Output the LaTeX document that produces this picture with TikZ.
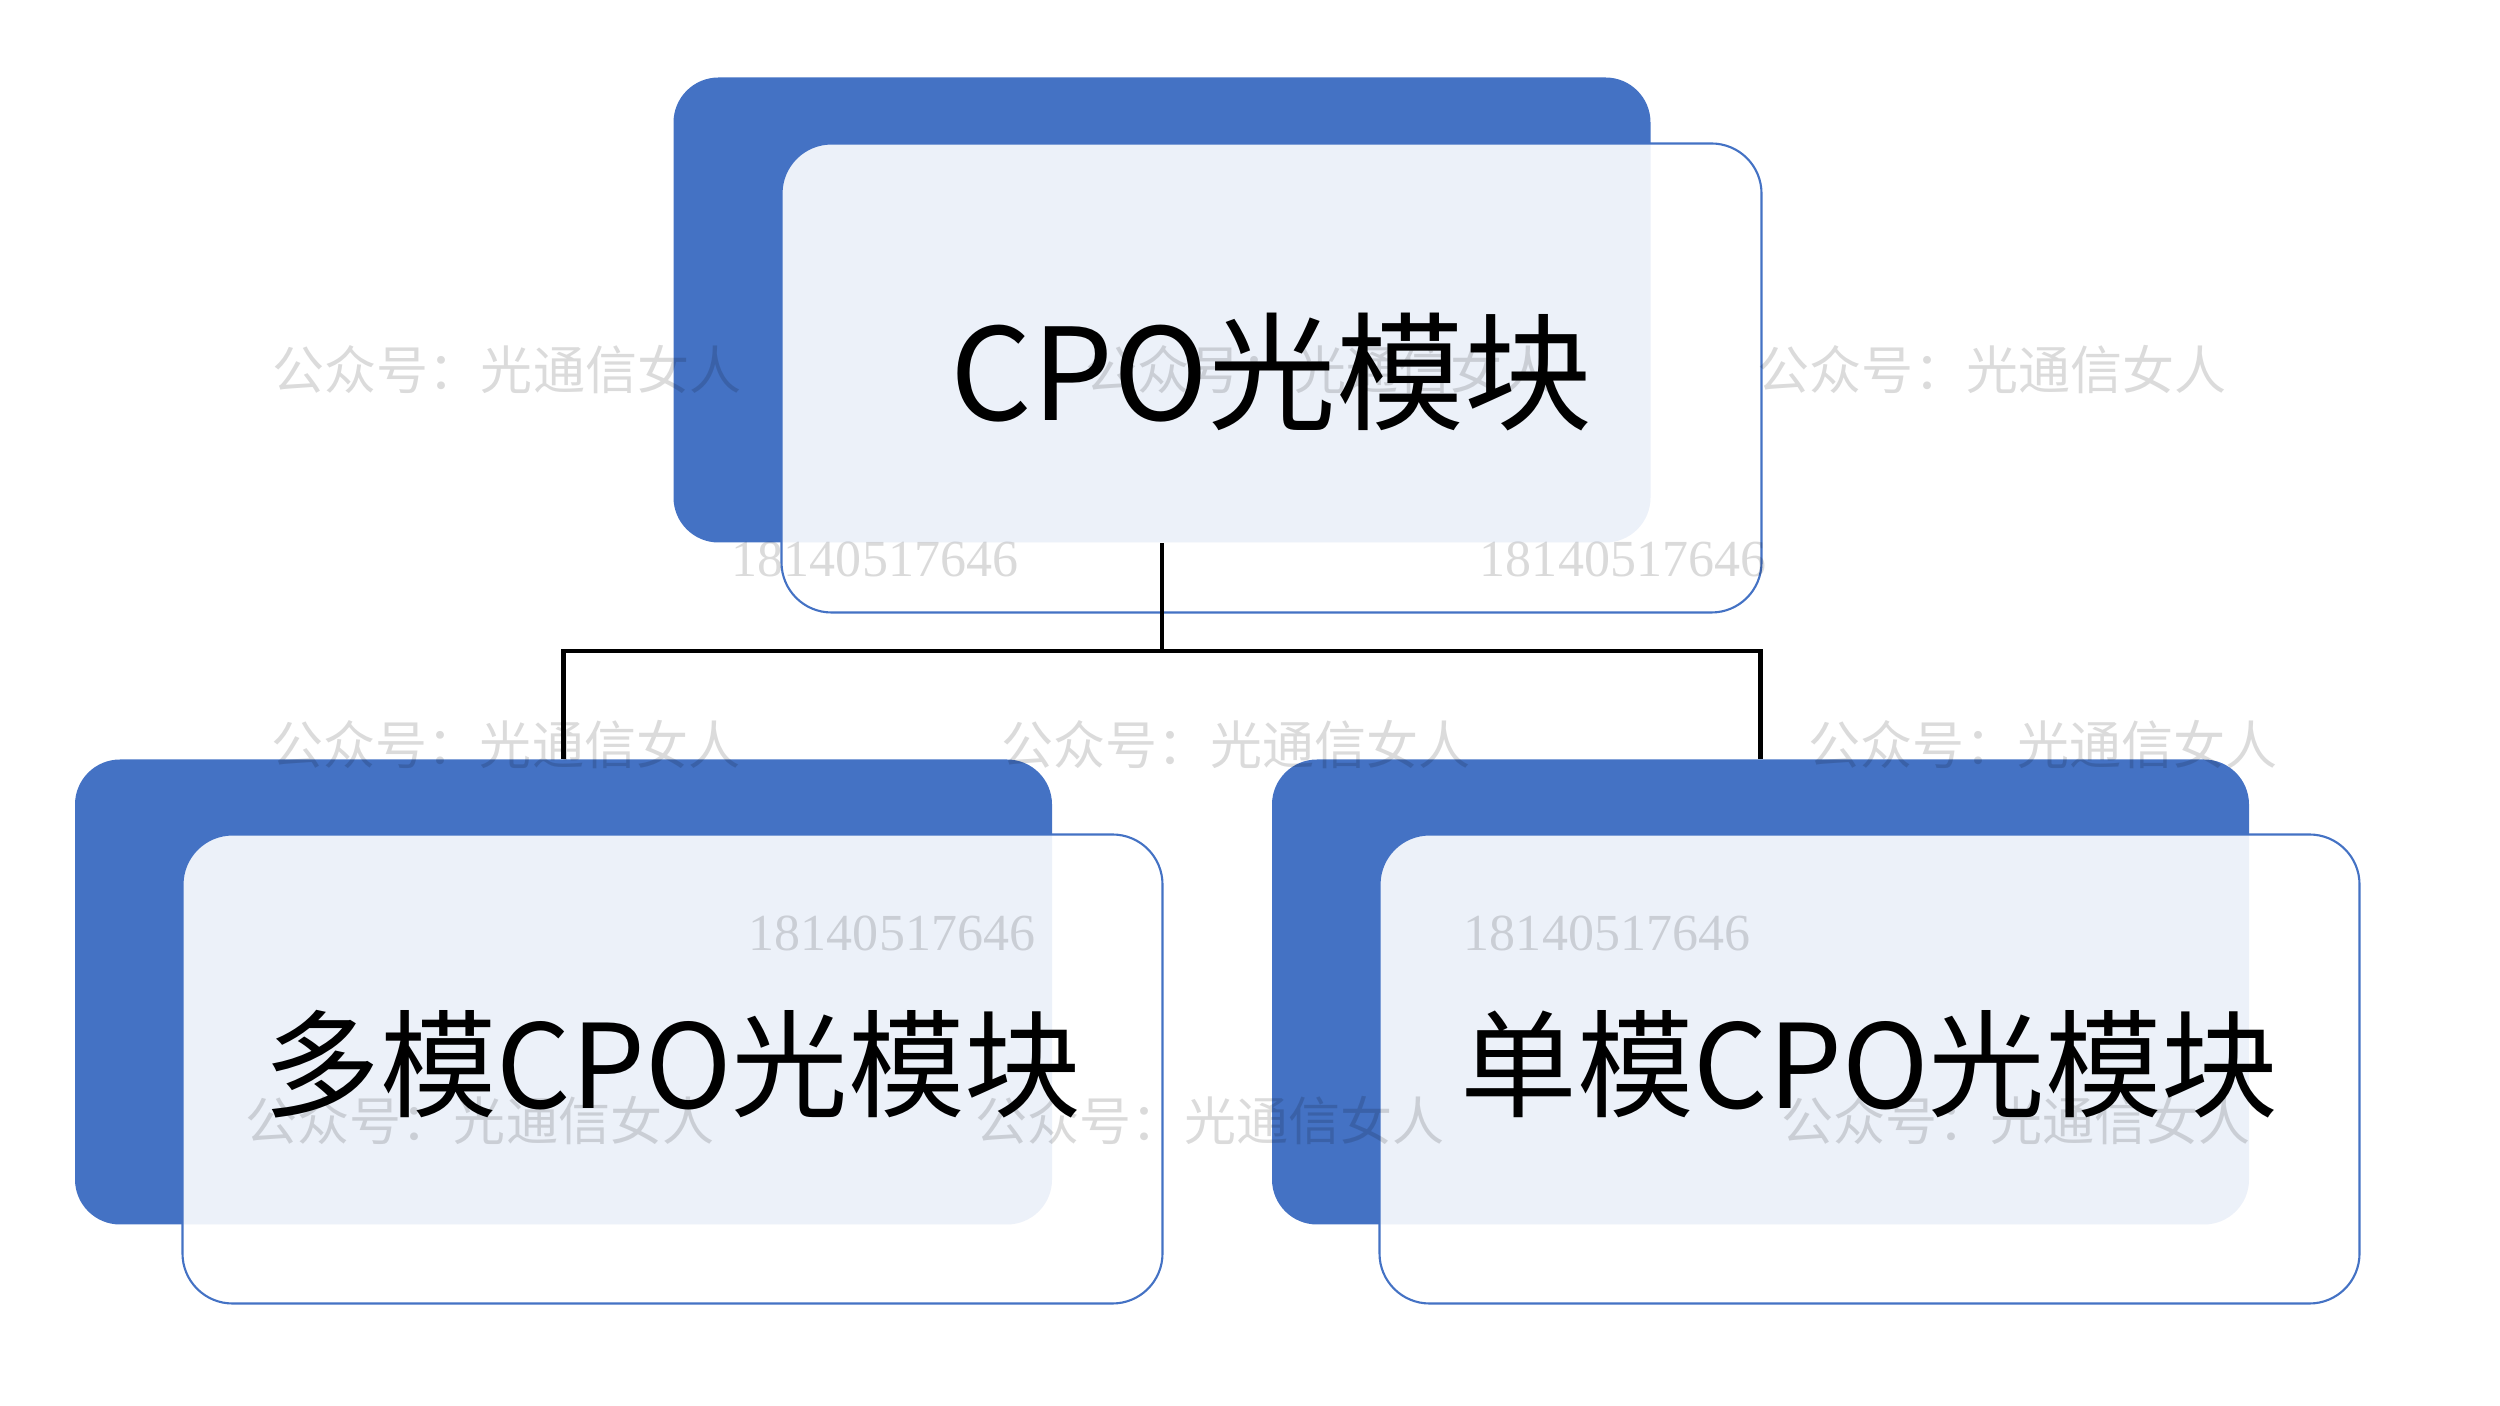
\documentclass[tikz,border=0pt]{standalone}
\usepackage{fontspec}
\newfontfamily\cjk{Noto Sans CJK SC}
\newfontfamily\numfont{Liberation Serif}
\definecolor{boxblue}{HTML}{4472C4}
\tikzset{
	backbox/.style={fill=boxblue,rounded corners=.45cm,minimum width=9.77cm,minimum height=4.65cm},
	frontbox/.style={draw=boxblue,line width=.6pt,fill=white,fill opacity=.9,text opacity=1,rounded corners=.5cm,minimum width=9.8cm,minimum height=4.69cm,font=\cjk\fontsize{33.2}{38}\selectfont},
	linkline/.style={black,line width=1.2pt},
	wechatmark/.style={black,text opacity=.14,font=\cjk\fontsize{14.8}{16}\selectfont},
	phonemark/.style={black,text opacity=.14,font=\numfont\fontsize{14.8}{16}\selectfont}
}
\begin{document}
\begin{tikzpicture}
	\useasboundingbox (0,0) rectangle (25,14.06);
%	Top box :
	\node[backbox] (cpoback) at (11.62,10.96) {};
	\node[frontbox,font=\cjk\fontsize{36.4}{40}\selectfont] (cpofront) at (12.715,10.28) {\raisebox{1.8pt}[\height][\depth]{CPO光模块}};
%	Left box :
	\node[backbox] (mmback) at (5.635,4.14) {};
	\node[frontbox] (mmfront) at (6.725,3.37) {\raisebox{1.4pt}[\height][\depth]{多模CPO光模块}};
%	Right box :
	\node[backbox] (smback) at (17.605,4.14) {};
	\node[frontbox] (smfront) at (18.695,3.37) {\raisebox{1.4pt}[\height][\depth]{单模CPO光模块}};
%	Links :
	\coordinate (bus) at (11.62,7.55);
	\draw[linkline] (cpoback.south) -- (bus);
	\draw[linkline] (bus) -| (mmback.north);
	\draw[linkline] (bus) -| (smback.north);
%	Watermarks :
	\foreach \wx/\wy [count=\wi] in {5.07/10.36,13.20/10.36,19.92/10.36,5.06/6.61,12.36/6.61,20.43/6.61,4.80/2.85,12.10/2.85,20.16/2.85}
		\node[wechatmark] (wechat\wi) at (\wx,\wy) {公众号：光通信女人};
	\foreach \wx/\wy [count=\wi] in {8.75/8.47,16.23/8.47,8.92/4.73,16.07/4.73}
		\node[phonemark] (phone\wi) at (\wx,\wy) {18140517646};
\end{tikzpicture}
\end{document}
